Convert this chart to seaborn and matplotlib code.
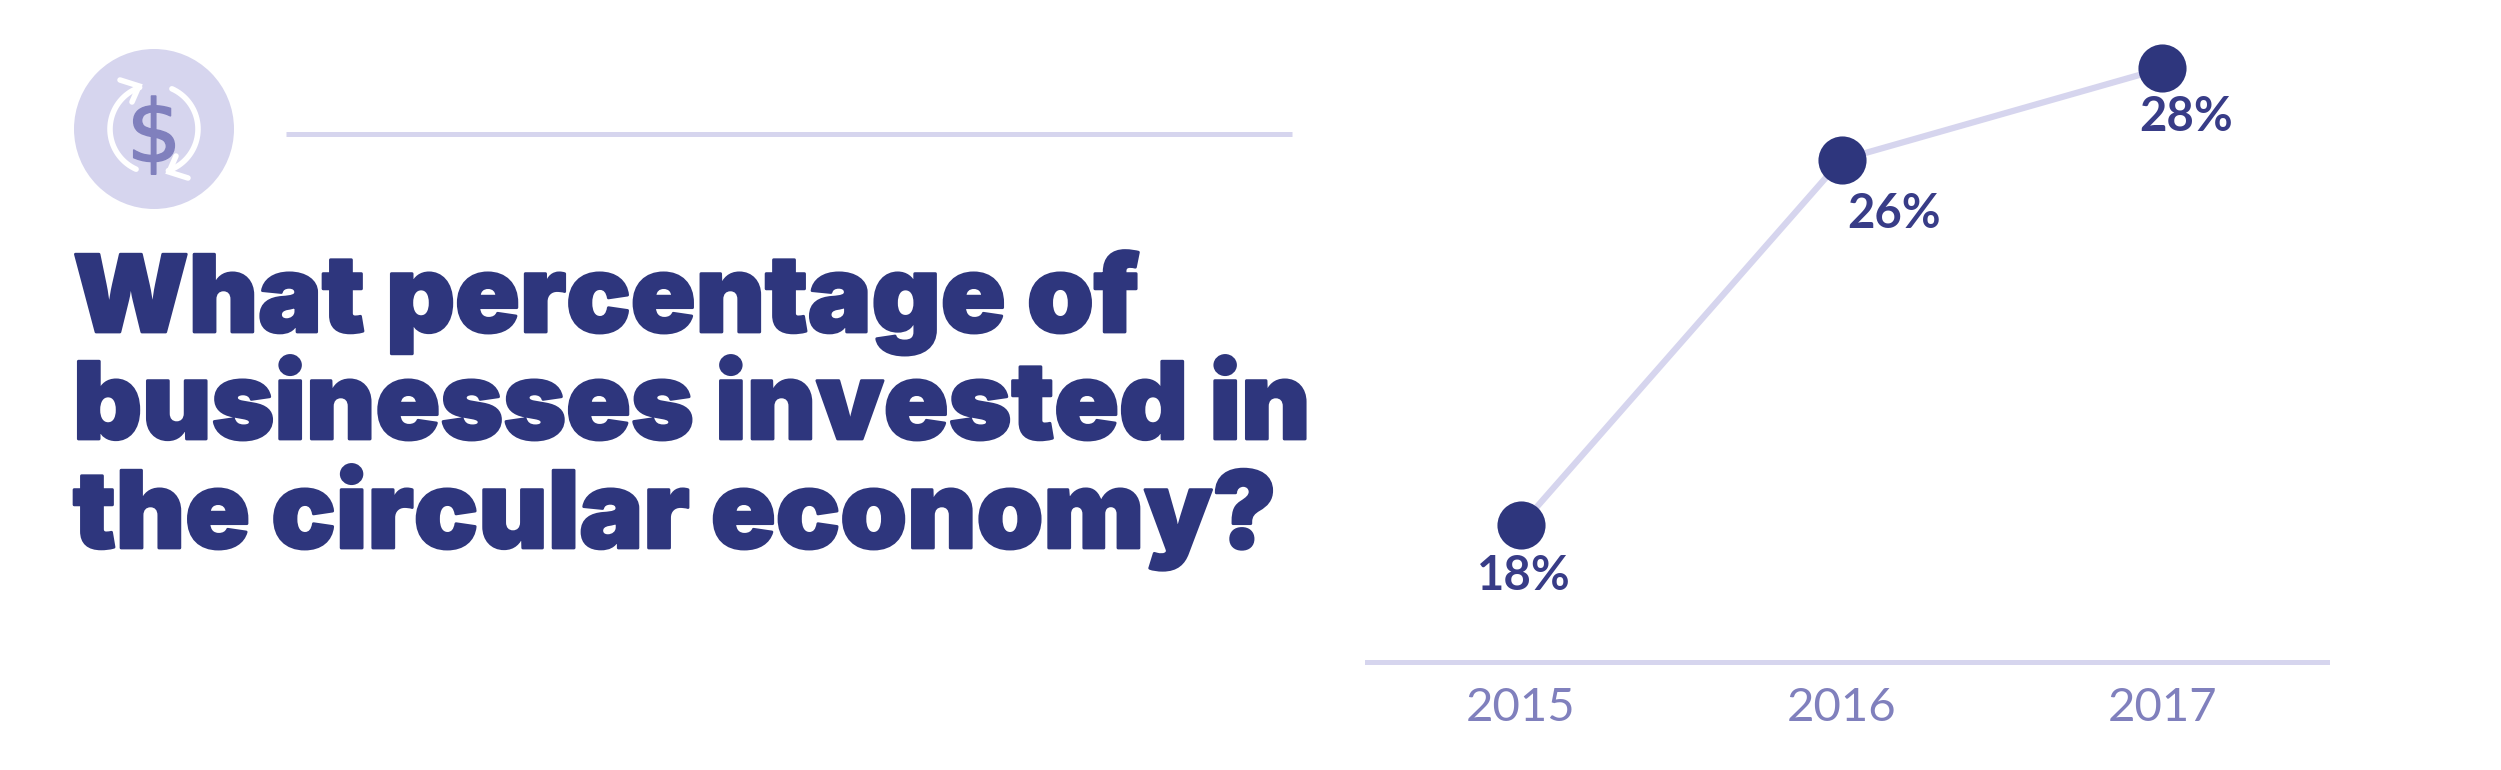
import numpy as np
import pandas as pd
import matplotlib
matplotlib.use("Agg")
import matplotlib.pyplot as plt
import matplotlib.patheffects as pe
import seaborn as sns
from matplotlib.patches import Circle

# Data
years = [2015, 2016, 2017]
values = [18, 26, 28]
value_labels = ["18%", "26%", "28%"]
title_lines = ["What percentage of", "businesses invested in", "the circular economy?"]

# Colours
NAVY = "#2e367d"
LABEL_NAVY = "#383c87"
PALE = "#d6d5ee"
MID = "#8080bd"

W, H = 2501, 770

sns.set_theme(style="white")
plt.rcParams["font.family"] = ["Lato", "DejaVu Sans"]

df = pd.DataFrame({"year": years, "value": values})

fig = plt.figure(figsize=(W / 100, H / 100), dpi=100, facecolor="white")

# Overlay in pixel coordinates for the header artwork
bg = fig.add_axes([0, 0, 1, 1])
bg.set_xlim(0, W)
bg.set_ylim(H, 0)
bg.axis("off")

# Icon
bg.add_patch(Circle((154, 129), 80, color=PALE, lw=0))
for rot in [0, 180]:
    theta = np.radians(np.linspace(114, 251, 40) + rot)
    bg.plot(154 + 44 * np.cos(theta), 129 + 44 * np.sin(theta),
            color="white", lw=4, solid_capstyle="round")
    head = np.array([[-34, -49], [-15, -43], [-22, -27]])
    if rot:
        head = -head
    bg.plot(154 + head[:, 0], 129 + head[:, 1], color="white", lw=4,
            solid_capstyle="round", solid_joinstyle="miter")
bg.text(154, 129, "$", color=MID, fontsize=62, family="DejaVu Sans",
        ha="center", va="center_baseline",
        path_effects=[pe.withStroke(linewidth=1.2, foreground=MID)])

# Rule next to the icon
bg.plot([286, 1292], [134, 134], color=PALE, lw=3.6, solid_capstyle="butt")

# Heading
heavy = [pe.withStroke(linewidth=2, foreground=NAVY)]
for line, baseline in zip(title_lines, [332, 439, 548]):
    bg.text(73, baseline, line, color=NAVY, fontsize=77, fontweight=900,
            family=["Inter", "DejaVu Sans"], ha="left", va="baseline",
            path_effects=heavy)

# Line chart
ax = fig.add_axes([1367 / W, (H - 662) / H, 960 / W, 662 / H])
ax.patch.set_alpha(0)
sns.lineplot(data=df, x="year", y="value", color=PALE, lw=4.5, ax=ax, zorder=2)
sns.scatterplot(data=df, x="year", y="value", color=NAVY, s=1200, linewidth=0,
                ax=ax, zorder=3, clip_on=False)

ax.set_xlim(2014.52, 2017.514)
ax.set_ylim(15, 29.5)
ax.set_xticks(years)
ax.set_yticks([])
ax.set_xlabel("")
ax.set_ylabel("")
ax.tick_params(axis="x", length=0, pad=18, labelcolor=MID, labelsize=34)
sns.despine(ax=ax, left=True)
ax.spines["bottom"].set_color(PALE)
ax.spines["bottom"].set_linewidth(3.6)

# Value labels sit under their points
offsets = [(3, -51), (53, -54), (24, -49)]
for year, value, label, off in zip(years, values, value_labels, offsets):
    ax.annotate(label, (year, value), xytext=(off[0] * 0.72, off[1] * 0.72),
                textcoords="offset points", color=LABEL_NAVY, fontsize=34,
                fontweight="bold", ha="center", va="center", zorder=4)

fig.savefig("out.png", dpi=100)
